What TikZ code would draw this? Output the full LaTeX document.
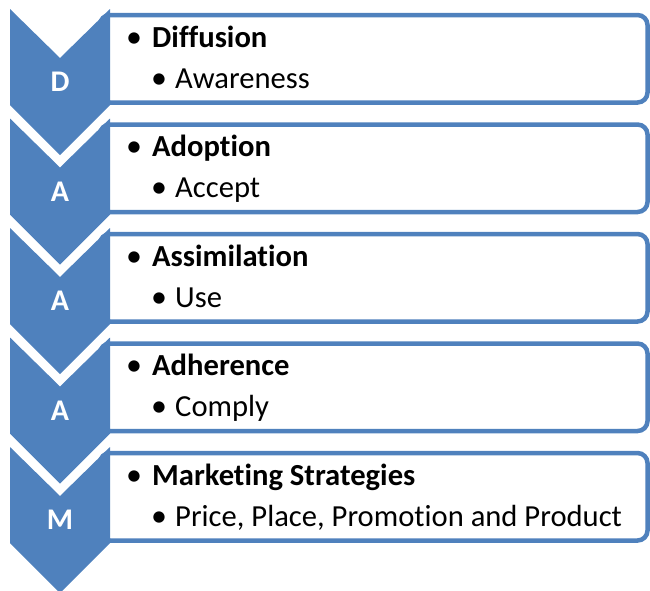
\documentclass[tikz,border=0pt]{standalone}
\usepackage{fontspec}
\setmainfont{Carlito}[Ligatures=NoCommon]
\begin{document}
\begin{tikzpicture}[x=1pt,y=-1pt,line join=miter,
  chevron/.style={fill=stageblue,draw=none},
  stagebox/.style={draw=stageblue,fill=white,line width=4.5pt,rounded corners=10pt},
  letter/.style={text=white,inner sep=0pt,font=\fontsize{30}{34}\selectfont\bfseries},
  headline/.style={anchor=base west,inner sep=0pt,font=\fontsize{30.6}{35}\selectfont\bfseries},
  subline/.style={anchor=base west,inner sep=0pt,font=\fontsize{30.6}{35}\selectfont},
  dot/.style={anchor=base,inner sep=0pt,font=\fontsize{32}{35}\selectfont}]
\definecolor{stageblue}{HTML}{4F81BD}
\useasboundingbox (0,0) rectangle (650,590);
% stage D
\draw[stagebox] (100,15) rectangle (647.5,102.5);
\fill[chevron] (10,9) -- (60,58) -- (110,9) -- (110,105) -- (60,155) -- (10,105) -- cycle;
\node[letter] (letD) at (60,82) {D};
\node[dot] (dotD1) at (134,47) {•};
\node[headline] (headD) at (152,47) {Diffusion};
\node[dot] (dotD2) at (159,88) {•};
\node[subline] (subD) at (175,88) {Awareness};
% stage A (adoption)
\draw[stagebox] (100,124.5) rectangle (647.5,212);
\fill[chevron] (10,118.5) -- (60,167.5) -- (110,118.5) -- (110,214.5) -- (60,264.5) -- (10,214.5) -- cycle;
\node[letter] (letA1) at (60,191.5) {A};
\node[dot] (dotA1a) at (134,156.5) {•};
\node[headline] (headA1) at (152,156.5) {Adoption};
\node[dot] (dotA1b) at (159,197.5) {•};
\node[subline] (subA1) at (175,197.5) {Accept};
% stage A (assimilation)
\draw[stagebox] (100,234) rectangle (647.5,321.5);
\fill[chevron] (10,228) -- (60,277) -- (110,228) -- (110,324) -- (60,374) -- (10,324) -- cycle;
\node[letter] (letA2) at (60,301) {A};
\node[dot] (dotA2a) at (134,266) {•};
\node[headline] (headA2) at (152,266) {Assimilation};
\node[dot] (dotA2b) at (159,307) {•};
\node[subline] (subA2) at (175,307) {Use};
% stage A (adherence)
\draw[stagebox] (100,343.5) rectangle (647.5,431);
\fill[chevron] (10,337.5) -- (60,386.5) -- (110,337.5) -- (110,433.5) -- (60,483.5) -- (10,433.5) -- cycle;
\node[letter] (letA3) at (60,410.5) {A};
\node[dot] (dotA3a) at (134,375.5) {•};
\node[headline] (headA3) at (152,375.5) {Adherence};
\node[dot] (dotA3b) at (159,416.5) {•};
\node[subline] (subA3) at (175,416.5) {Comply};
% stage M
\draw[stagebox] (100,453) rectangle (647.5,540.5);
\fill[chevron] (10,447) -- (60,496) -- (110,447) -- (110,543) -- (60,593) -- (10,543) -- cycle;
\node[letter] (letM) at (60,520) {M};
\node[dot] (dotMa) at (134,485) {•};
\node[headline] (headM) at (152,485) {Marketing Strategies};
\node[dot] (dotMb) at (159,526) {•};
\node[subline] (subM) at (175,526) {Price, Place, Promotion and Product};
\end{tikzpicture}
\end{document}
